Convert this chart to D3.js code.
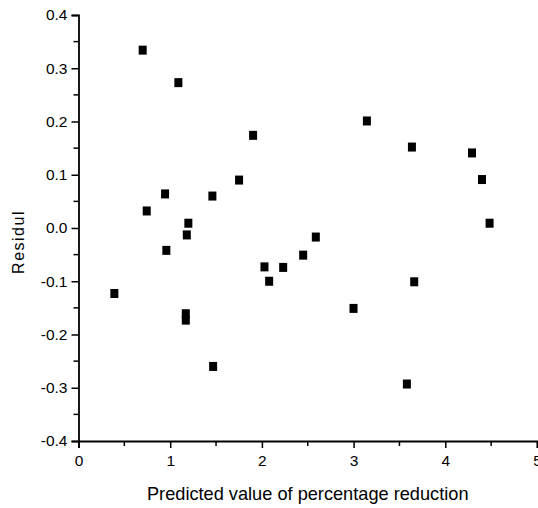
<!DOCTYPE html>
<html>
<head>
<meta charset="utf-8">
<script src="https://cdn.jsdelivr.net/npm/d3@7/dist/d3.min.js"></script>
<style>
  html, body { margin: 0; padding: 0; background: #fff; }
  svg { display: block; }
  text { font-family: "Liberation Sans", Arial, sans-serif; fill: #000; }
</style>
</head>
<body>
<svg id="chart" width="538" height="508"></svg>
<script>
// Residuals against predicted percentage reduction
const predicted = [0.70, 1.089, 0.944, 0.744, 1.198, 1.181, 0.958, 0.391, 1.170, 1.170,
                   1.468, 3.145, 1.904, 3.636, 4.291, 1.751, 4.400, 1.460, 4.483, 2.588,
                   2.450, 2.028, 2.232, 2.079, 3.661, 2.999, 3.581];
const residual  = [0.334, 0.273, 0.064, 0.032, 0.009, -0.013, -0.042, -0.123, -0.161, -0.173,
                   -0.260, 0.201, 0.174, 0.152, 0.141, 0.090, 0.091, 0.060, 0.009, -0.017,
                   -0.051, -0.073, -0.074, -0.100, -0.101, -0.151, -0.293];

const xMajor = [0, 1, 2, 3, 4, 5];
const xMinor = [0.5, 1.5, 2.5, 3.5, 4.5];
const yMajor = [-0.4, -0.3, -0.2, -0.1, 0.0, 0.1, 0.2, 0.3, 0.4];
const yMinor = [-0.35, -0.25, -0.15, -0.05, 0.05, 0.15, 0.25, 0.35];

const xTitle = "Predicted value of percentage reduction";
const yTitle = "Residul";

const svg = d3.select("#chart");
const plotLeft = 78.5, plotRight = 537, plotTop = 15, plotBottom = 441;

const x = d3.scaleLinear().domain([0, 5]).range([plotLeft, plotRight]);
const y = d3.scaleLinear().domain([-0.4, 0.4]).range([plotBottom, plotTop]);

const fmt = v => (Math.abs(v) < 1e-9 ? 0 : v).toFixed(1);

// bottom axis
const gx = svg.append("g").attr("transform", `translate(0,${plotBottom})`)
  .call(d3.axisBottom(x).tickValues(xMajor).tickFormat(d3.format("d")).tickSizeOuter(0).tickSize(7).tickPadding(7));
gx.selectAll(".tick-minor").data(xMinor).enter().append("line")
  .attr("class", "tick-minor")
  .attr("x1", d => x(d)).attr("x2", d => x(d))
  .attr("y1", 0).attr("y2", 5).attr("stroke", "#000").attr("stroke-width", 1.5);

// left axis
const gy = svg.append("g").attr("transform", `translate(${plotLeft},0)`)
  .call(d3.axisLeft(y).tickValues(yMajor).tickFormat(fmt).tickSizeOuter(0).tickSize(7).tickPadding(4));
gy.selectAll(".tick-minor").data(yMinor).enter().append("line")
  .attr("class", "tick-minor")
  .attr("y1", d => y(d)).attr("y2", d => y(d))
  .attr("x1", 0).attr("x2", -5).attr("stroke", "#000").attr("stroke-width", 1.5);

[gx, gy].forEach(g => {
  g.select(".domain").attr("stroke", "#000").attr("stroke-width", 1.8);
  g.selectAll(".tick line").attr("stroke", "#000").attr("stroke-width", 1.5);
  g.selectAll(".tick text").attr("font-family", "Liberation Sans, Arial, sans-serif")
    .attr("font-size", 15.5).attr("fill", "#000");
});

// axis titles
svg.append("text")
  .attr("x", (plotLeft + plotRight) / 2).attr("y", 500)
  .attr("text-anchor", "middle").attr("font-size", 18.2)
  .text(xTitle);

svg.append("text")
  .attr("transform", `translate(23.5,242) rotate(-90)`)
  .attr("text-anchor", "middle").attr("font-size", 16)
  .attr("letter-spacing", 1.5)
  .text(yTitle);

// residual markers
const w = 8, h = 9;
svg.append("g").selectAll("rect")
  .data(d3.range(predicted.length))
  .enter().append("rect")
  .attr("x", i => x(predicted[i]) - w / 2)
  .attr("y", i => y(residual[i]) - h / 2)
  .attr("width", w).attr("height", h)
  .attr("fill", "#000");
</script>
</body>
</html>
